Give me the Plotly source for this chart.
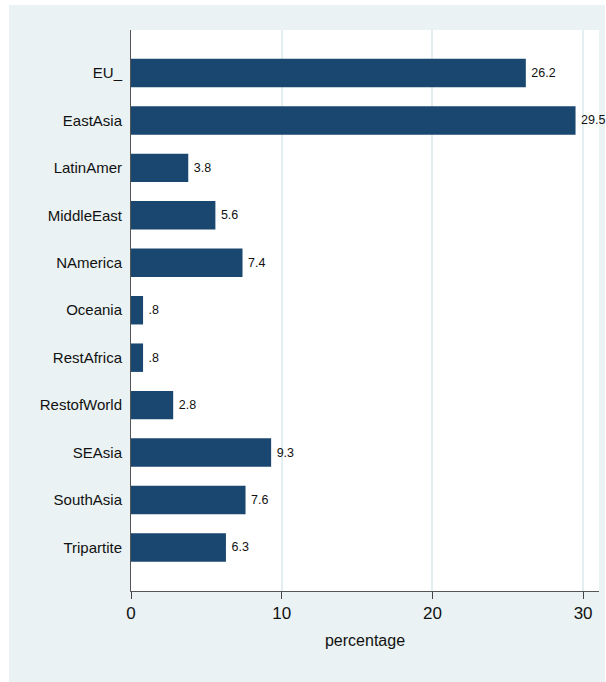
import plotly.graph_objects as go

categories = ["EU_", "EastAsia", "LatinAmer", "MiddleEast", "NAmerica", "Oceania",
              "RestAfrica", "RestofWorld", "SEAsia", "SouthAsia", "Tripartite"]
values = [26.2, 29.5, 3.8, 5.6, 7.4, 0.8, 0.8, 2.8, 9.3, 7.6, 6.3]
value_labels = ["26.2", "29.5", "3.8", "5.6", "7.4", ".8", ".8", "2.8", "9.3", "7.6", "6.3"]
x_ticks = [0, 10, 20, 30]
x_title = "percentage"

FONT = "Liberation Sans Narrow, Arial Narrow, Liberation Sans, Arial, sans-serif"
BG = "#eaf2f3"

fig = go.Figure(go.Bar(
    x=values, y=categories, orientation="h",
    marker=dict(color="#1a476f", line=dict(width=0)),
    width=0.6,
    text=value_labels, texttemplate="\u2009%{text}",
    textposition="outside", cliponaxis=False,
    constraintext="none",
    textfont=dict(family=FONT, size=12.5, color="#111111"),
    hoverinfo="skip",
))

W, H = 606, 682
L, R, T, B = 131, 7, 30, 91
pw, ph = W - L - R, H - T - B

def px_x(x):
    return (x - L) / pw

def px_y(y):
    return (H - B - y) / ph

fig.update_layout(
    width=W, height=H,
    margin=dict(l=L, r=R, t=T, b=B, pad=0),
    paper_bgcolor=BG, plot_bgcolor="white",
    showlegend=False,
    font=dict(family=FONT, color="#111111"),
    shapes=[
        dict(type="rect", xref="paper", yref="paper", layer="below",
             x0=px_x(0), x1=px_x(9), y0=px_y(H), y1=px_y(0),
             fillcolor="white", line=dict(width=0)),
        dict(type="rect", xref="paper", yref="paper", layer="below",
             x0=px_x(0), x1=px_x(W), y0=px_y(5), y1=px_y(0),
             fillcolor="white", line=dict(width=0)),
        dict(type="rect", xref="paper", yref="paper", layer="below",
             x0=px_x(605), x1=px_x(W), y0=px_y(H), y1=px_y(0),
             fillcolor="white", line=dict(width=0)),
    ],
    xaxis=dict(
        range=[0, (599 - 131.6) / 15.05],
        tickvals=x_ticks, ticktext=[str(t) for t in x_ticks],
        ticks="outside", ticklen=7, tickwidth=1, tickcolor="#444444",
        showline=True, linecolor="#555555", linewidth=1,
        showgrid=True, gridcolor="#e3eef0", gridwidth=1.5,
        zeroline=False,
        tickfont=dict(family=FONT, size=17, color="#111111"),
        title=dict(text=x_title, font=dict(family=FONT, size=16, color="#111111"), standoff=12),
    ),
    yaxis=dict(
        type="category",
        categoryorder="array", categoryarray=categories,
        range=[10.917, -0.906],
        showline=True, linecolor="#555555", linewidth=1,
        showgrid=False, zeroline=False, ticks="",
        ticklabelstandoff=5,
        tickfont=dict(family=FONT, size=15, color="#111111"),
    ),
)

fig.write_html("out.html", config={"displayModeBar": False},
               post_script="document.body.style.margin='0';document.body.style.padding='0';")
